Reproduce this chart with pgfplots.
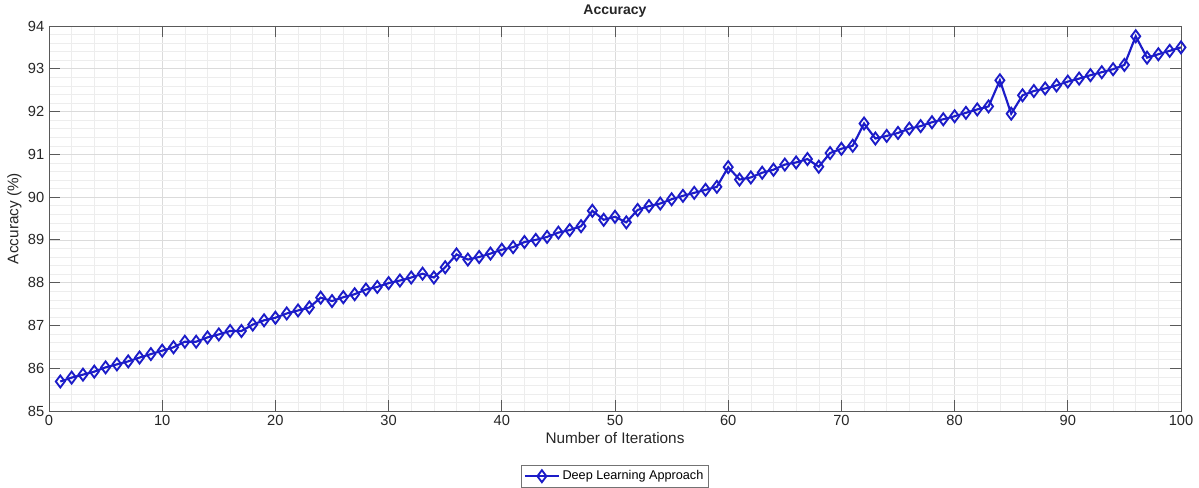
\documentclass[border=0pt]{standalone}
\usepackage{pgfplots}
\pgfplotsset{compat=1.18}
\usepackage{fontspec}
\setmainfont{Liberation Sans}
\definecolor{lineblue}{RGB}{28,28,200}
\definecolor{axgray}{RGB}{38,38,38}
\pgfplotstableread{
x y
1 85.69
2 85.78
3 85.85
4 85.92
5 86.02
6 86.09
7 86.16
8 86.25
9 86.33
10 86.41
11 86.49
12 86.62
13 86.62
14 86.72
15 86.79
16 86.87
17 86.87
18 87.02
19 87.12
20 87.18
21 87.28
22 87.35
23 87.42
24 87.65
25 87.57
26 87.66
27 87.73
28 87.84
29 87.90
30 87.99
31 88.05
32 88.12
33 88.21
34 88.12
35 88.36
36 88.66
37 88.54
38 88.60
39 88.68
40 88.77
41 88.83
42 88.95
43 89.00
44 89.07
45 89.17
46 89.23
47 89.32
48 89.68
49 89.47
50 89.54
51 89.41
52 89.70
53 89.79
54 89.85
55 89.95
56 90.03
57 90.10
58 90.17
59 90.24
60 90.70
61 90.41
62 90.46
63 90.57
64 90.64
65 90.76
66 90.81
67 90.89
68 90.71
69 91.03
70 91.13
71 91.20
72 91.72
73 91.37
74 91.43
75 91.50
76 91.60
77 91.66
78 91.75
79 91.82
80 91.89
81 91.97
82 92.05
83 92.12
84 92.73
85 91.95
86 92.38
87 92.48
88 92.54
89 92.61
90 92.70
91 92.77
92 92.85
93 92.92
94 92.99
95 93.09
96 93.76
97 93.26
98 93.34
99 93.42
100 93.50
}\datatable
\usepackage{pgfplotstable}
\begin{document}
\begin{tikzpicture}
\begin{axis}[
  name=ax,
  scale only axis,
  width=849pt, height=288.75pt,
  xmin=0, xmax=100, ymin=85, ymax=94,
  xtick={0,10,...,100}, ytick={85,86,...,94},
  minor x tick num=4, minor y tick num=4,
  grid=both,
  major grid style={draw=black!14, line width=0.5pt},
  minor grid style={draw=black!7, line width=0.4pt},
  axis line style={draw=black!65, line width=0.6pt},
  tick style={draw=black!65, line width=0.6pt},
  major tick length=8pt, minor tick length=0pt,
  tick align=inside,
  xtick pos=both, ytick pos=both,
  /pgf/number format/assume math mode=true,
  ticklabel style={font=\fontsize{11}{13}\selectfont, text=axgray},
  xlabel={Number of Iterations},
  ylabel={Accuracy (\%)},
  xlabel style={font=\fontsize{11.5}{13}\selectfont, text=axgray, yshift=2pt},
  ylabel style={font=\fontsize{11.5}{13}\selectfont, text=axgray, yshift=-2pt},
  title={\textbf{Accuracy}},
  title style={font=\fontsize{10.5}{12}\selectfont, text=axgray, yshift=-3pt},
  legend style={at={(0.5,-0.14)}, anchor=north, font=\fontsize{9.5}{11}\selectfont,
    draw=black!55, line width=0.6pt, inner sep=2pt},
  legend cell align=left,
  legend image code/.code={
    \draw[mark repeat=2, mark phase=2, line width=1.3pt]
      plot coordinates {(0cm,0cm) (0.45cm,0cm) (0.9cm,0cm)};
  },
]
\addplot[color=lineblue, line width=1.6pt, mark=diamond, mark size=4.5pt,
  mark options={line width=1.4pt, fill=white}] table[x=x, y=y] {\datatable};
\addlegendentry{Deep Learning Approach}
\end{axis}
\pgfresetboundingbox
\useasboundingbox ([xshift=-36.75pt,yshift=-57.75pt]ax.south west) rectangle ([xshift=13.5pt,yshift=19.5pt]ax.north east);
\end{tikzpicture}
\end{document}
